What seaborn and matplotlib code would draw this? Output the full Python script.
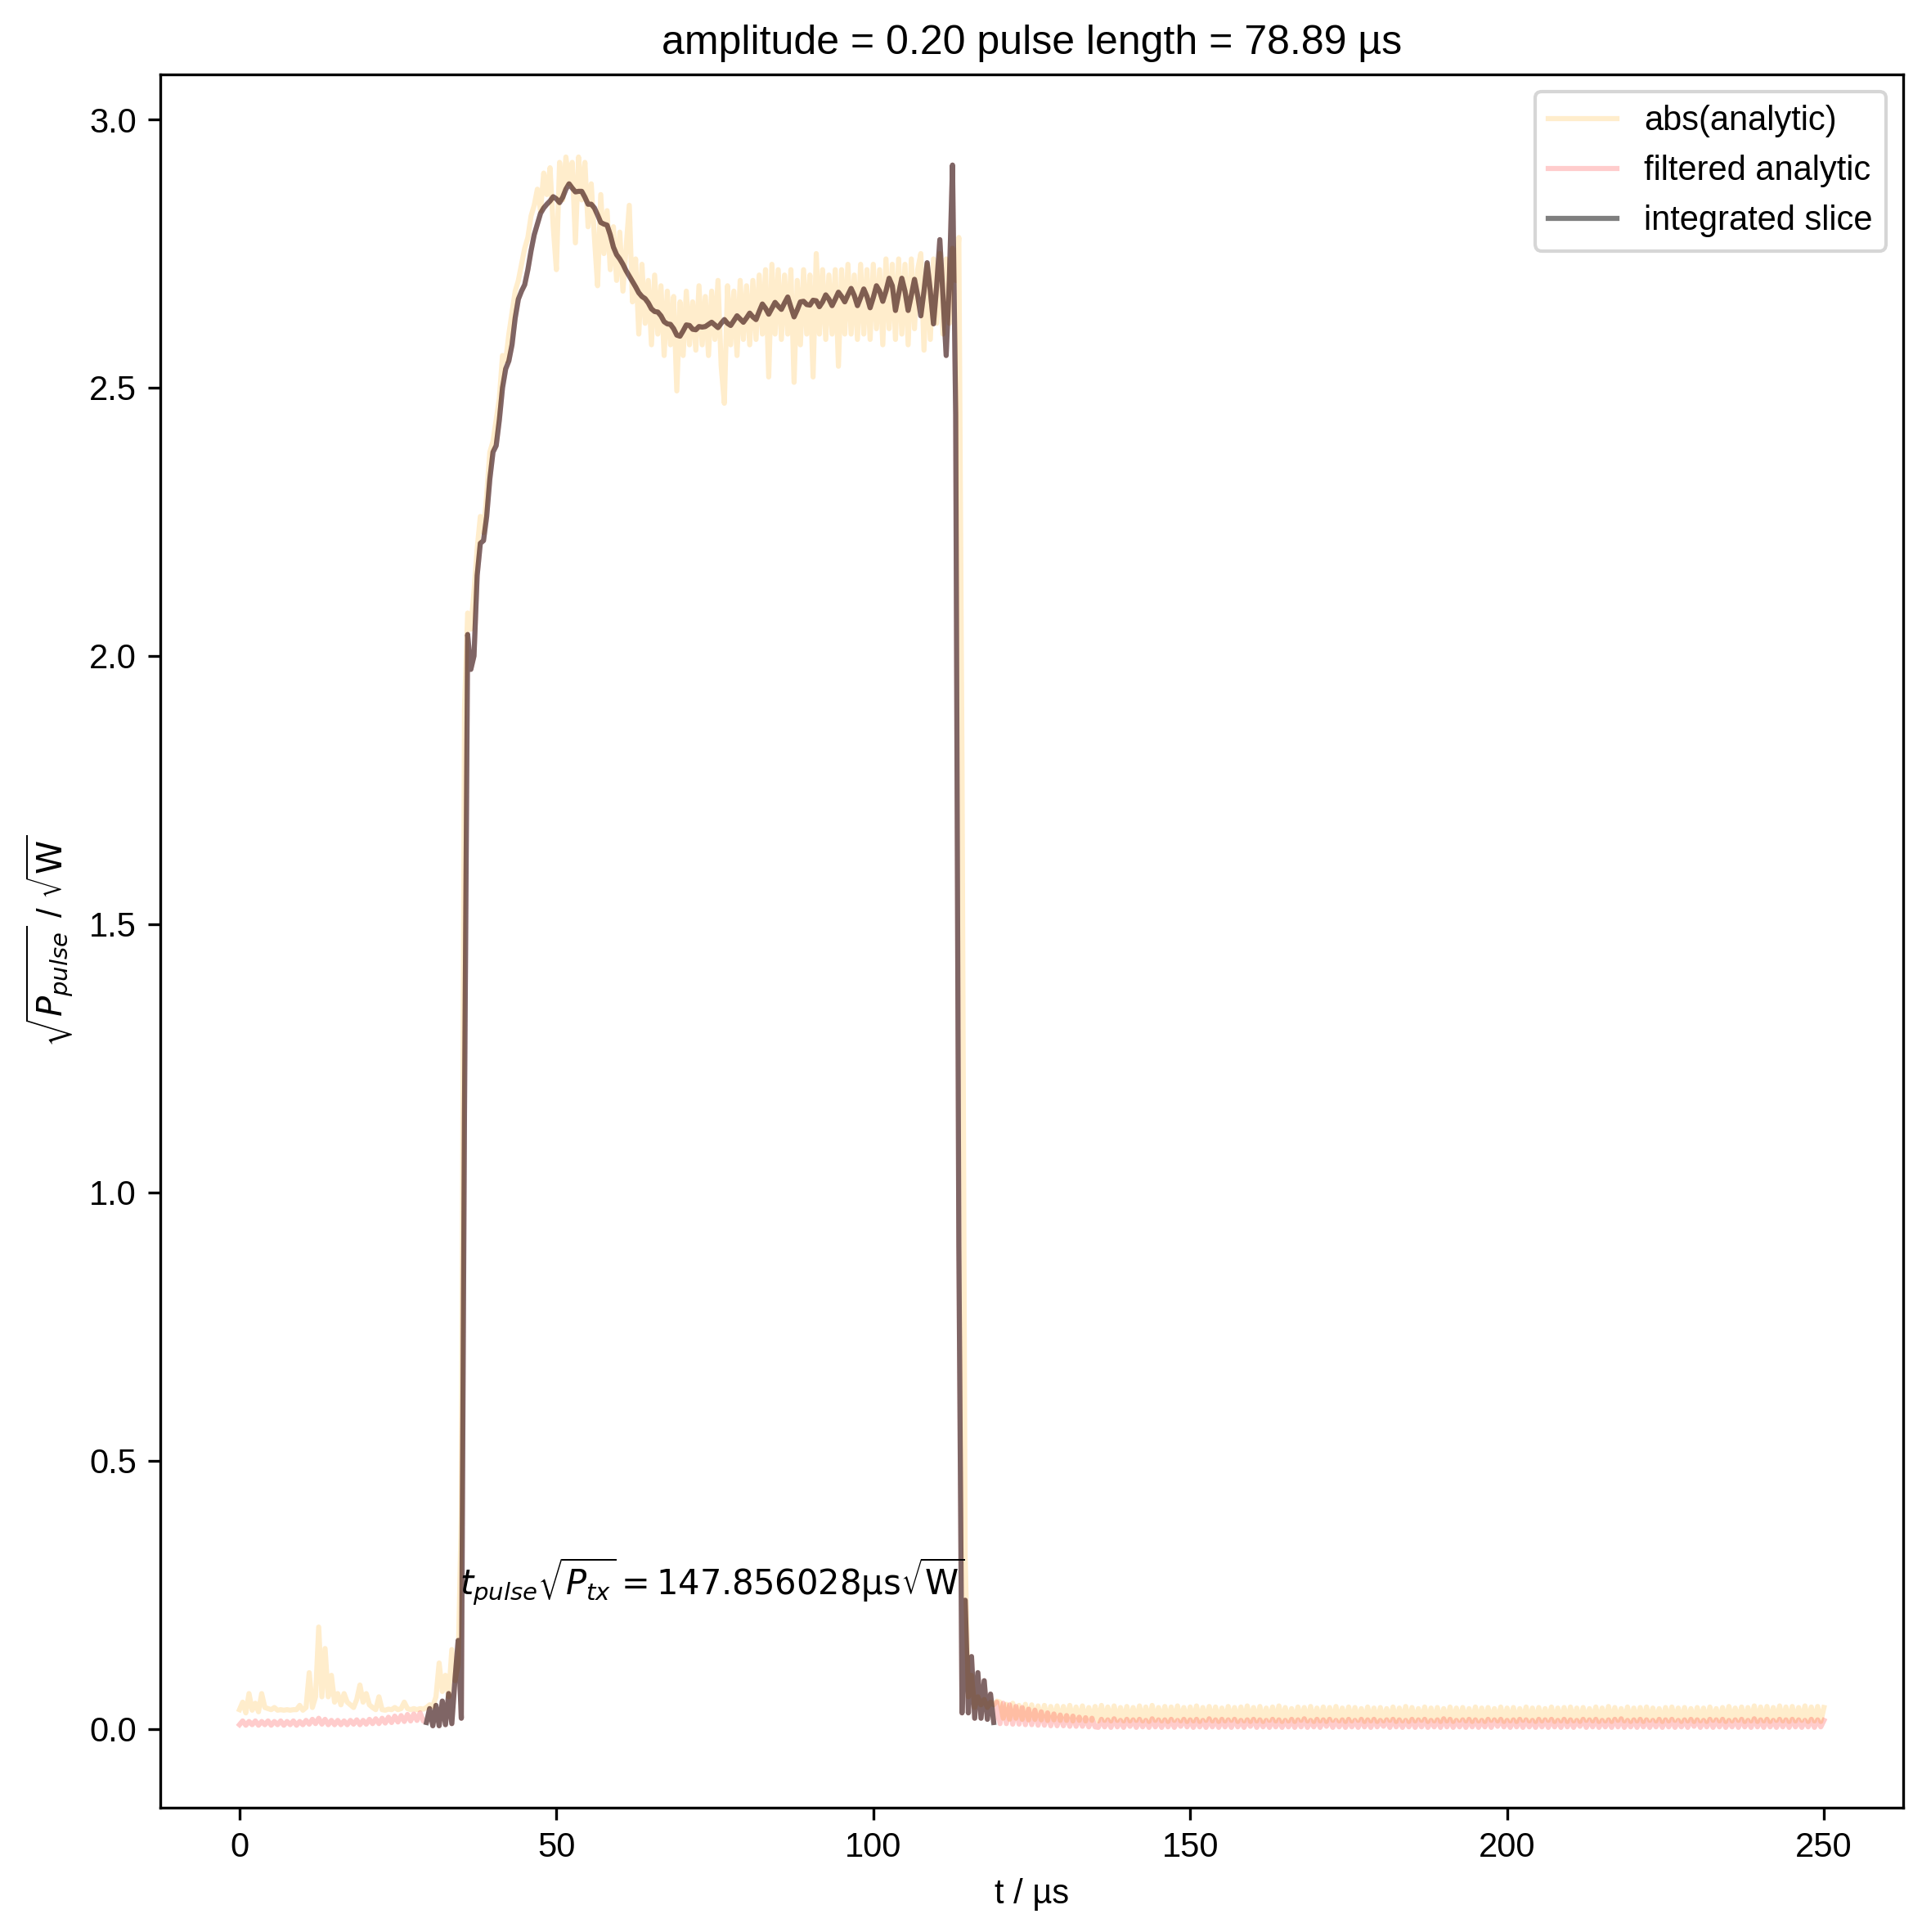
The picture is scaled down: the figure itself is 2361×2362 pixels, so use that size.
import numpy as np
import matplotlib
matplotlib.use("Agg")
import matplotlib.pyplot as plt
import seaborn as sns

plt.rcParams['font.family'] = ['Liberation Sans', 'DejaVu Sans']
plt.rcParams['mathtext.fontset'] = 'dejavusans'

# time grid (µs), 0.5 µs steps from 0 to 250
t_step = 0.5
n_samples = 501

# abs(analytic) values in thousandths of sqrt(W)
abs_analytic_milli = [
    36, 50, 30, 66, 35, 48, 32, 66, 40, 38,
    36, 40, 35, 36, 35, 36, 35, 36, 36, 44,
    35, 40, 105, 40, 60, 190, 60, 150, 60, 100,
    50, 66, 45, 66, 50, 45, 40, 55, 82, 50,
    66, 45, 40, 36, 60, 36, 35, 37, 36, 40,
    36, 38, 50, 38, 36, 38, 36, 38, 37, 40,
    45, 42, 60, 123, 70, 100, 60, 148, 90, 120,
    400, 1900, 2080, 2050, 2120, 2200, 2260, 2230, 2300, 2380,
    2400, 2440, 2480, 2560, 2550, 2600, 2640, 2680, 2700, 2730,
    2760, 2780, 2820, 2840, 2870, 2830, 2900, 2860, 2910, 2800,
    2720, 2920, 2850, 2930, 2880, 2920, 2770, 2930, 2850, 2920,
    2800, 2880, 2780, 2690, 2860, 2750, 2830, 2720, 2800, 2700,
    2790, 2680, 2760, 2840, 2660, 2740, 2600, 2730, 2620, 2700,
    2580, 2710, 2600, 2690, 2560, 2680, 2580, 2670, 2494, 2660,
    2560, 2680, 2580, 2660, 2570, 2690, 2580, 2670, 2560, 2680,
    2590, 2700, 2540, 2471, 2690, 2580, 2680, 2560, 2700, 2590,
    2690, 2580, 2700, 2590, 2710, 2600, 2720, 2520, 2730, 2600,
    2720, 2590, 2710, 2600, 2720, 2510, 2700, 2580, 2720, 2600,
    2710, 2520, 2750, 2600, 2720, 2590, 2710, 2600, 2720, 2540,
    2720, 2600, 2730, 2600, 2710, 2590, 2730, 2600, 2720, 2590,
    2730, 2610, 2720, 2580, 2740, 2610, 2730, 2590, 2740, 2600,
    2730, 2580, 2740, 2610, 2720, 2750, 2570, 2730, 2590, 2740,
    2620, 2750, 2600, 2740, 2620, 2760, 2700, 2780, 1800, 320,
    60, 100, 40, 60, 45, 55, 40, 50, 45, 52,
    50, 20, 46, 18, 48, 20, 44, 18, 46, 17, 45, 18, 43, 17, 44, 16, 42, 17, 43, 16,
    42, 16, 44, 15, 41, 16, 43, 15, 40, 16, 42, 15, 44, 16, 41, 15, 43, 16, 40, 15,
    42, 15, 40, 16, 43, 15, 41, 14, 44, 16, 40, 15, 42, 14, 41, 16, 43, 15, 40, 14,
    41, 15, 43, 14, 40, 16, 42, 15, 41, 14, 39, 15, 42, 16, 40, 14, 41, 15, 43, 14,
    40, 15, 42, 14, 39, 16, 41, 15, 43, 14, 40, 15, 38, 14, 41, 16, 40, 15, 42, 14,
    39, 15, 41, 14, 40, 16, 42, 15, 39, 14, 41, 15, 40, 16, 38, 14, 41, 15, 39, 14,
    40, 15, 38, 16, 41, 14, 39, 15, 42, 14, 40, 15, 38, 16, 41, 14, 39, 15, 40, 14,
    38, 15, 41, 14, 39, 16, 40, 15, 38, 14, 41, 15, 39, 14, 40, 16, 38, 15, 41, 14,
    39, 15, 40, 14, 38, 16, 41, 15, 39, 14, 40, 15, 38, 16, 41, 14, 39, 15, 40, 14,
    41, 15, 39, 14, 40, 16, 38, 15, 41, 14, 39, 15, 42, 14, 40, 16, 38, 15, 41, 14,
    39, 15, 40, 14, 41, 16, 39, 15, 38, 14, 40, 15, 41, 16, 39, 14, 40, 15, 38, 14,
    40, 15, 39, 14, 41, 16, 38, 15, 40, 14, 42, 15, 39, 16, 41, 14, 40, 15, 43, 14,
    41, 15, 42, 14, 40, 16, 43, 15, 41, 14, 42, 15, 40, 16, 43, 14, 41, 15, 42, 14,
    40,
]

# filtered analytic values in thousandths of sqrt(W)
filtered_milli = [
    8, 15, 7, 14, 8, 15, 7, 14, 8, 15,
    7, 14, 8, 15, 7, 14, 8, 15, 7, 14,
    8, 16, 9, 18, 10, 20, 9, 18, 8, 16,
    8, 16, 8, 15, 8, 16, 9, 17, 8, 16,
    9, 18, 10, 19, 10, 20, 11, 22, 12, 24,
    13, 25, 14, 27, 15, 28, 16, 30, 15, 12,
    38, 6, 44, 6, 52, 8, 66, 10, 92, 165,
    20, 1150, 2040, 1975, 2000, 2150, 2210, 2215, 2260, 2330,
    2380, 2392, 2440, 2500, 2535, 2550, 2580, 2630, 2665, 2680,
    2692, 2720, 2755, 2785, 2805, 2825, 2835, 2842, 2848, 2856,
    2852, 2845, 2855, 2870, 2880, 2872, 2865, 2866, 2866, 2855,
    2842, 2842, 2835, 2822, 2808, 2805, 2803, 2785, 2762, 2748,
    2740, 2730, 2718, 2708, 2698, 2688, 2677, 2670, 2666, 2658,
    2647, 2642, 2641, 2634, 2623, 2619, 2618, 2610, 2598, 2596,
    2606, 2617, 2616, 2609, 2608, 2614, 2613, 2614, 2618, 2622,
    2617, 2612, 2620, 2627, 2620, 2616, 2625, 2634, 2628, 2622,
    2630, 2639, 2632, 2627, 2642, 2656, 2648, 2637, 2648, 2659,
    2652, 2646, 2658, 2669, 2650, 2632, 2645, 2660, 2661, 2655,
    2654, 2663, 2662, 2651, 2660, 2673, 2665, 2653, 2665, 2678,
    2670, 2660, 2673, 2685, 2672, 2653, 2668, 2684, 2670, 2649,
    2668, 2690, 2680, 2661, 2680, 2704, 2690, 2644, 2675, 2704,
    2680, 2644, 2672, 2702, 2672, 2634, 2680, 2733, 2680, 2619,
    2690, 2776, 2670, 2560, 2700, 2915, 2450, 900, 30, 240,
    30, 135, 20, 105, 20, 90, 18, 65, 12, 50,
    10, 48, 10, 45, 9, 42, 9, 40, 8, 37,
    8, 35, 7, 32, 7, 30, 6, 28, 6, 26,
    6, 25, 5, 24, 5, 22, 5, 21, 4, 20,
    4,
    3, 18, 4, 17, 3, 19, 4, 16, 3, 18, 5, 17, 3, 18, 4, 16, 3, 19, 4, 17,
    3, 17, 4, 18, 3, 16, 5, 18, 4, 17, 3, 18, 4, 16, 3, 19, 4, 17, 3, 18,
    4, 17, 3, 18, 4, 16, 3, 17, 5, 18, 3, 17, 4, 16, 3, 18, 4, 17, 3, 16,
    4, 18, 3, 17, 4, 19, 3, 16, 4, 18, 3, 17, 5, 18, 3, 16, 4, 17, 3, 18,
    4, 16, 3, 18, 4, 17, 3, 18, 4, 16, 5, 17, 3, 18, 4, 17, 3, 16, 4, 18,
    3, 17, 4, 18, 3, 16, 4, 17, 3, 19, 4, 18, 3, 16, 4, 17, 3, 18, 4, 17,
    3, 16, 4, 18, 3, 17, 5, 18, 4, 16, 3, 17, 4, 18, 3, 17, 4, 16, 3, 18,
    4, 17, 3, 18, 4, 16, 3, 18, 4, 17, 3, 16, 5, 18, 3, 17, 4, 18, 3, 16,
    4, 17, 3, 18, 4, 19, 3, 16, 4, 17, 3, 18, 4, 17, 3, 16, 4, 18, 3, 17,
    4, 18, 3, 16, 4, 17, 3, 18, 5, 17, 3, 16, 4, 18, 3, 17, 4, 18, 3, 16,
    4, 17, 3, 18, 4, 16, 3, 19, 4, 17, 3, 18, 4, 16, 3, 18, 4, 17, 3, 18,
    4, 17, 3, 16, 4, 18, 3, 17, 4, 16,
]

# integrated slice window (µs)
slice_start = 29.5
slice_end = 119.0

title_text = "amplitude = 0.20 pulse length = 78.89 µs"
annot_text = r"$t_{pulse}\sqrt{P_{tx}} = 147.856028\mathrm{µs}\sqrt{\mathrm{W}}$"
annot_pos = (34.7, 0.25)
labels = ["abs(analytic)", "filtered analytic", "integrated slice"]

print(len(abs_analytic_milli), len(filtered_milli))
t = np.arange(n_samples) * t_step
abs_analytic = np.array(abs_analytic_milli[:n_samples]) / 1000.0
filtered = np.array(filtered_milli[:n_samples]) / 1000.0
mask = (t >= slice_start) & (t <= slice_end)

fig = plt.figure(figsize=(2361 / 300, 2362 / 300), dpi=300)
ax = fig.add_axes([0.0830, 0.0644, 0.9026, 0.8971])

sns.lineplot(x=t, y=abs_analytic, color="orange", alpha=0.2, label=labels[0], ax=ax, lw=1.5)
sns.lineplot(x=t, y=filtered, color="red", alpha=0.2, label=labels[1], ax=ax, lw=1.5)
sns.lineplot(x=t[mask], y=filtered[mask], color="black", alpha=0.5, label=labels[2], ax=ax, lw=1.5)

ax.text(annot_pos[0], annot_pos[1], annot_text, fontsize=10, va="baseline", ha="left")
ax.set_title(title_text, fontsize=12)
ax.set_xlabel("t / µs")
ax.set_ylabel(r"$\sqrt{P_{pulse}}$ / $\sqrt{\mathrm{W}}$")
ax.set_xlim(-12.5, 262.5)
ax.set_ylim(-0.1465, 3.084)
ax.legend(loc="upper right")

fig.savefig("out.png", dpi=300)
